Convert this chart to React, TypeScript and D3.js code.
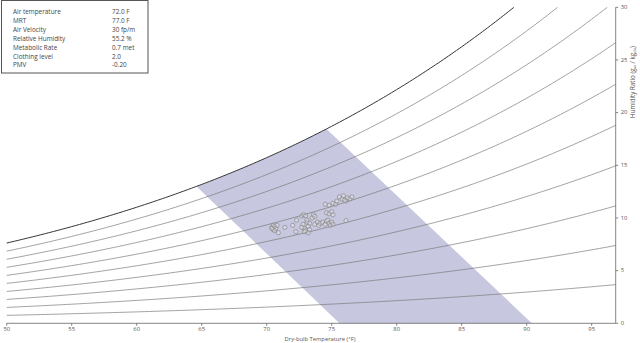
import React from 'react';
import * as d3 from 'd3';

// ---- data ----
const rhLevels = [10, 20, 30, 40, 50, 60, 70, 80, 90, 100];
const xTicks = [50, 55, 60, 65, 70, 75, 80, 85, 90, 95];
const yTicks = [0, 5, 10, 15, 20, 25, 30];
// comfort zone corners (°F); top corners lie on the saturation curve
const comfortLeftEdge = [75.6, 64.6];
const comfortRightEdge = [74.6, 90.4];
// measured points: dry-bulb (°F) and humidity ratio (g/kg)
const scatterT = [70.4, 70.5, 70.5, 70.6, 70.7, 70.6, 70.8, 70.9, 70.4, 71.4, 72.0, 72.3, 72.25,
  72.7, 72.85, 73.0, 72.8, 72.9, 73.0, 73.1, 73.2, 73.3, 72.9, 73.2, 73.1, 73.3, 72.7,
  73.5, 73.6, 73.7, 73.7, 73.9, 74.0, 74.1, 74.3, 74.5, 74.6, 74.8, 74.9, 75.0, 75.1, 74.7,
  74.6, 74.8, 75.0, 75.1, 74.5, 74.8, 75.1, 75.3, 75.4, 75.6, 75.8, 75.9, 76.1, 76.2, 76.4, 76.55, 76.0, 76.1];
const scatterW = [9.1, 9.3, 8.9, 9.2, 9.0, 8.8, 9.3, 8.6, 9.0, 9.1, 9.3, 9.8, 8.7,
  10.2, 10.3, 10.2, 9.4, 9.0, 8.8, 9.6, 9.2, 8.9, 8.7, 8.6, 9.8, 9.5, 9.1,
  10.0, 10.3, 10.15, 9.4, 9.6, 9.3, 9.5, 9.6, 9.4, 9.7, 9.5, 9.3, 9.6, 9.4, 9.8,
  10.5, 10.4, 10.6, 10.3, 11.3, 11.2, 11.4, 11.3, 11.6, 12.0, 11.8, 12.1, 11.6, 11.9, 11.8, 12.0, 11.7, 9.75];
const infoLabels = ['Air temperature', 'MRT', 'Air Velocity', 'Relative Humidity', 'Metabolic Rate', 'Clothing level', 'PMV'];
const infoValues = ['72.0 F', '77.0 F', '30 fp/m', '55.2 %', '0.7 met', '2.0', '-0.20'];

// ---- psychrometrics ----
const P = 101.325;
const pws = (tF: number) => {
  const t = (tF - 32) / 1.8;
  return 0.61094 * Math.exp((17.625 * t) / (t + 243.04));
};
const humRatio = (tF: number, rh: number) => {
  const pw = (rh / 100) * pws(tF);
  return (622 * pw) / (P - pw);
};

const T_MIN = 50, T_MAX = 96.85, W_MAX = 30;
const x = d3.scaleLinear().domain([T_MIN, T_MAX]).range([6.7, 615.7]);
const y = d3.scaleLinear().domain([0, W_MAX]).range([323.3, 7.3]);

function rhCurve(rh: number): [number, number][] {
  const pts: [number, number][] = [];
  for (let t = T_MIN; t <= T_MAX + 1e-9; t += 0.2) {
    const w = humRatio(t, rh);
    if (w > W_MAX) {
      let lo = t - 0.2, hi = t;
      for (let i = 0; i < 40; i++) {
        const m = (lo + hi) / 2;
        if (humRatio(m, rh) > W_MAX) hi = m; else lo = m;
      }
      pts.push([lo, W_MAX]);
      return pts;
    }
    pts.push([t, w]);
  }
  pts.push([T_MAX, humRatio(T_MAX, rh)]);
  return pts;
}

const line = d3.line<[number, number]>().x(d => x(d[0])).y(d => y(d[1]));

function comfortPolygon(): [number, number][] {
  const pts: [number, number][] = [];
  pts.push([comfortLeftEdge[0], 0]);
  const t0 = comfortLeftEdge[1], t1 = comfortRightEdge[0];
  for (let t = t0; t < t1; t += 0.2) pts.push([t, humRatio(t, 100)]);
  pts.push([t1, humRatio(t1, 100)]);
  pts.push([comfortRightEdge[1], 0]);
  return pts;
}

const FONT = '"Open Sans", "DejaVu Sans", sans-serif';

export default function App() {
  const poly = comfortPolygon();
  return (
    <svg width={640} height={343} style={{ position: 'fixed', left: 0, top: 0, background: '#fff' }}
      fontFamily={FONT}>
      <path d={line(poly)! + 'Z'} fill="#c7c7df" stroke="none" />
      {rhLevels.map(rh => (
        <path key={rh} d={line(rhCurve(rh))!} fill="none"
          stroke={rh === 100 ? '#333' : '#7a7a7a'} strokeWidth={rh === 100 ? 1 : 0.7} />
      ))}
      {scatterT.map((t, i) => (
        <circle key={i} cx={x(t)} cy={y(scatterW[i])} r={2.1} fill="rgba(255,255,255,0.25)"
          stroke="#8a8a8a" strokeWidth={0.7} />
      ))}
      {/* x axis */}
      <line x1={x(T_MIN)} x2={x(T_MAX)} y1={y(0)} y2={y(0)} stroke="#666" strokeWidth={0.8} />
      {xTicks.map(t => (
        <g key={t}>
          <line x1={x(t)} x2={x(t)} y1={y(0)} y2={y(0) + 2.5} stroke="#666" strokeWidth={0.8} />
          <text x={x(t)} y={y(0) + 6} fontSize={5.8} fill="#555" textAnchor="middle" dominantBaseline="middle">{t}</text>
        </g>
      ))}
      <text x={320} y={339.5} fontSize={5.8} fill="#555" textAnchor="middle" dominantBaseline="middle">Dry-bulb Temperature (°F)</text>
      {/* y axis */}
      <line x1={x(T_MAX)} x2={x(T_MAX)} y1={y(0)} y2={y(W_MAX)} stroke="#666" strokeWidth={0.8} />
      {yTicks.map(w => (
        <g key={w}>
          <line x1={x(T_MAX)} x2={x(T_MAX) + 2.5} y1={y(w)} y2={y(w)} stroke="#666" strokeWidth={0.8} />
          <text x={x(T_MAX) + 5} y={y(w)} fontSize={5.8} fill="#555" dominantBaseline="middle">{w}</text>
        </g>
      ))}
      <text transform="translate(633,82) rotate(-90)" fontSize={6.2} fill="#555" textAnchor="middle" dominantBaseline="middle">
        Humidity Ratio (g<tspan fontSize={4.3} dy={1.5}>w</tspan><tspan dy={-1.5}> / kg</tspan><tspan fontSize={4.3} dy={1.5}>da</tspan><tspan dy={-1.5}>)</tspan>
      </text>
      {/* info box */}
      <rect x={1.5} y={0.5} width={146.5} height={72.5} fill="#fff" stroke="#555" strokeWidth={1} />
      {infoLabels.map((lab, i) => (
        <g key={lab}>
          <text x={13} y={12.3 + i * 8.9} fontSize={6.4} fill="#444" dominantBaseline="middle">{lab}</text>
          <text x={112} y={12.3 + i * 8.9} fontSize={6.4} fill="#444" dominantBaseline="middle">{infoValues[i]}</text>
        </g>
      ))}
    </svg>
  );
}
